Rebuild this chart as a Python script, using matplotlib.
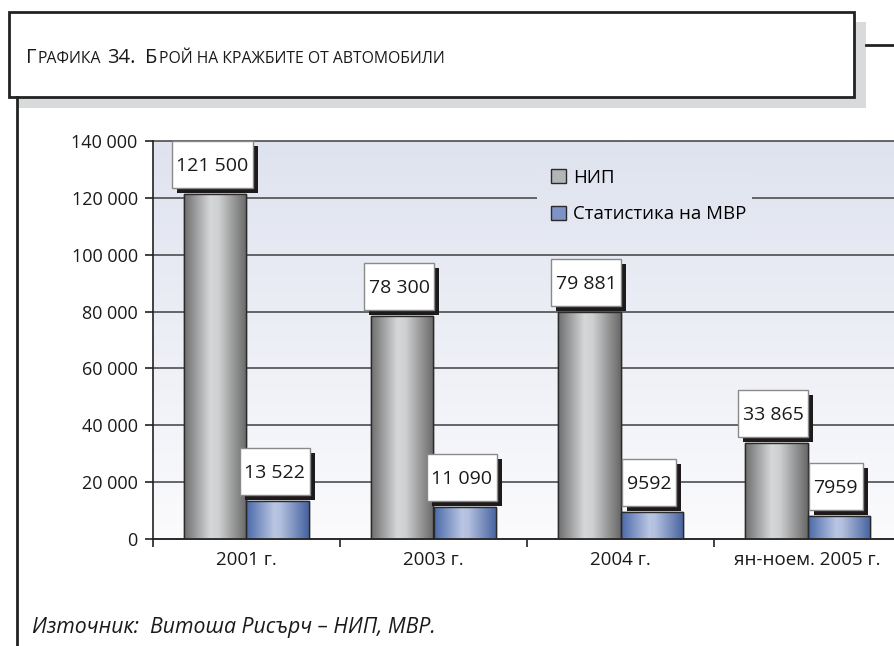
import numpy as np
import matplotlib
matplotlib.use("Agg")
import matplotlib.pyplot as plt
import matplotlib.transforms as mtransforms
from matplotlib.patches import Rectangle
from matplotlib.lines import Line2D
from matplotlib.colors import LinearSegmentedColormap
from matplotlib.patches import Patch

plt.rcParams['font.family'] = ['Open Sans', 'DejaVu Sans']

# ---------------- data ----------------
categories = ["2001 г.", "2003 г.", "2004 г.", "ян-ноем. 2005 г."]
nip = [121500, 78300, 79881, 33865]
mvr = [13522, 11090, 9592, 7959]
nip_labels = ["121 500", "78 300", "79 881", "33 865"]
mvr_labels = ["13 522", "11 090", "9592", "7959"]
series_names = ["НИП", "Статистика на МВР"]
y_ticks = [0, 20000, 40000, 60000, 80000, 100000, 120000, 140000]
y_tick_labels = ["0", "20 000", "40 000", "60 000", "80 000", "100 000", "120 000", "140 000"]
title_parts = [("Г", "big"), ("РАФИКА", "small"), (" ", "gap"), ("34.", "big"), ("  ", "gap2"),
               ("Б", "big"), ("РОЙ НА КРАЖБИТЕ ОТ АВТОМОБИЛИ", "small")]
source_text = "Източник:  Витоша Рисърч – НИП, МВР."

W, H = 895, 646
fig = plt.figure(figsize=(W / 100, H / 100), dpi=100)
fig.patch.set_facecolor("white")


def fx(x):
    return x / W


def fy(y):
    return 1 - y / H


# ---------------- decorations (title box) ----------------
fig.add_artist(Rectangle((fx(17), fy(108)), fx(866) - fx(17), fy(22) - fy(108),
                         transform=fig.transFigure, facecolor="#d9dadc", edgecolor="none", zorder=1))
fig.add_artist(Rectangle((fx(9), fy(97)), fx(854) - fx(9), fy(12) - fy(97),
                         transform=fig.transFigure, facecolor="white", edgecolor="#222222",
                         linewidth=2.0, zorder=2))
fig.add_artist(Line2D([fx(866), fx(895)], [fy(45), fy(45)], transform=fig.transFigure,
                      color="#222222", linewidth=2.0, zorder=2))
fig.add_artist(Line2D([fx(17), fx(17)], [fy(97), fy(646)], transform=fig.transFigure,
                      color="#222222", linewidth=2.0, zorder=2))

# ---------------- axes ----------------
ax_left, ax_right = 153, 901
ax_top, ax_bottom = 141, 539
ax = fig.add_axes([fx(ax_left), fy(ax_bottom), fx(ax_right) - fx(ax_left), fy(ax_top) - fy(ax_bottom)])
ax.set_facecolor("none")
n = len(categories)
xpos = np.arange(n)
bw = 0.335
ax.set_xlim(-0.5, n - 0.5)
ax.set_ylim(0, 140000)

# background gradient
bg_cmap = LinearSegmentedColormap.from_list("bg", ["#fbfbfd", "#dfe3ef"])
grad = np.linspace(0, 1, 256).reshape(-1, 1)
full_extent = [-0.5, n - 0.5, 0, 140000]
ax.imshow(grad, extent=full_extent, origin="lower", aspect="auto", cmap=bg_cmap, zorder=0)

gray_cmap = LinearSegmentedColormap.from_list(
    "g", [(0, "#6e6e6e"), (0.42, "#d6d7d9"), (0.55, "#cfd0d2"), (1, "#686868")])
blue_cmap = LinearSegmentedColormap.from_list(
    "b", [(0, "#4a69aa"), (0.45, "#bac6e2"), (0.55, "#b2bfde"), (1, "#45629f")])
hgrad = np.linspace(0, 1, 256).reshape(1, -1)

bars_nip = ax.bar(xpos - bw / 2, nip, width=bw, color="#b0b0b0", edgecolor="#2a2a2a",
                  linewidth=1.0, zorder=3)
bars_mvr = ax.bar(xpos + bw / 2, mvr, width=bw, color="#8093c8", edgecolor="#2a2a2a",
                  linewidth=1.0, zorder=3)
for bars, cm in ((bars_nip, gray_cmap), (bars_mvr, blue_cmap)):
    for b in bars:
        x0, w_, h_ = b.get_x(), b.get_width(), b.get_height()
        im = ax.imshow(hgrad, extent=[x0, x0 + w_, 0, h_], origin="lower", aspect="auto",
                       cmap=cm, zorder=3.5)
        im.set_clip_path(b)
        ax.add_patch(Rectangle((x0, 0), w_, h_, facecolor="none", edgecolor="#2a2a2a",
                               linewidth=1.0, zorder=3.6))
ax.set_xlim(-0.5, n - 0.5)
ax.set_ylim(0, 140000)

# grid & spines
ax.set_yticks(y_ticks)
ax.set_yticklabels(y_tick_labels, fontsize=13, color="#1a1a1a")
ax.yaxis.grid(True, color="#4d4d4d", linewidth=1.2, zorder=1)
ax.set_axisbelow(True)
for gl in ax.yaxis.get_gridlines():
    gl.set_clip_on(False)
ax.tick_params(axis="y", direction="out", length=6, width=1.2, color="#222222", pad=5)
ax.set_xticks(np.arange(-0.5, n, 1.0))
ax.set_xticklabels([])
ax.set_xticks(xpos, minor=True)
ax.set_xticklabels(categories, minor=True, fontsize=13.5, color="#1a1a1a")
ax.tick_params(axis="x", which="major", direction="out", length=6, width=1.2, color="#222222")
ax.tick_params(axis="x", which="minor", length=0, pad=8.5)
for s in ("top", "right"):
    ax.spines[s].set_visible(False)
ax.spines["left"].set_color("#222222")
ax.spines["left"].set_linewidth(1.2)
ax.spines["bottom"].set_color("#222222")
ax.spines["bottom"].set_linewidth(1.2)
ax.spines["left"].set_zorder(5)
ax.spines["bottom"].set_zorder(5)

# legend (no frame; the gridline behind it is hidden by a patch of the background gradient)
handles = [Patch(facecolor="#b4b5b7", edgecolor="#2a2a2a", linewidth=1.0),
           Patch(facecolor="#7f92c6", edgecolor="#2a2a2a", linewidth=1.0)]
leg_y = 1 - (196 - ax_top) / (ax_bottom - ax_top)
leg = ax.legend(handles, series_names, loc="center",
                bbox_to_anchor=((649 - ax_left) / (ax_right - ax_left), leg_y),
                fontsize=13.4, frameon=False, handlelength=0.78, handleheight=0.78,
                handletextpad=0.42, labelspacing=1.0, borderpad=0.9, borderaxespad=0)
leg.set_zorder(6)

fig.canvas.draw()
renderer = fig.canvas.get_renderer()

# cover gridline under legend with background gradient
inv = ax.transData.inverted()
(lx0, ly0) = inv.transform((fx(537) * W, (1 - 235 / H) * H))
(lx1, ly1) = inv.transform((fx(752) * W, (1 - 158 / H) * H))
cover = ax.imshow(grad, extent=full_extent, origin="lower", aspect="auto", cmap=bg_cmap, zorder=1.5)
clip_rect = Rectangle((lx0, ly0), lx1 - lx0, ly1 - ly0, transform=ax.transData)
cover.set_clip_path(clip_rect)
ax.set_xlim(-0.5, n - 0.5)
ax.set_ylim(0, 140000)


# ---------------- value labels ----------------
def label_box(xc, ytop, text):
    base = fig.dpi_scale_trans + mtransforms.ScaledTranslation(xc, ytop, ax.transData)
    px = 1 / fig.dpi
    t = ax.text(-3 * px, (6 + 47 / 2 - 1.5) * px, text, transform=base, ha="center", va="center",
                fontsize=14, color="#1a1a1a", zorder=9, clip_on=False)
    bb = t.get_window_extent(renderer)
    bw_px = bb.width + 9
    bh_px = 47
    x0 = -3 - bw_px / 2
    y0 = 6
    ax.add_patch(Rectangle(((x0 + 5) * px, (y0 - 5) * px), bw_px * px, bh_px * px, transform=base,
                           facecolor="#1e1a1b", edgecolor="none", zorder=7, clip_on=False))
    ax.add_patch(Rectangle((x0 * px, y0 * px), bw_px * px, bh_px * px, transform=base,
                           facecolor="white", edgecolor="#8a8a8a", linewidth=1.0, zorder=8,
                           clip_on=False))


for b, lab in zip(bars_nip, nip_labels):
    label_box(b.get_x() + b.get_width() / 2, b.get_height(), lab)
for b, lab in zip(bars_mvr, mvr_labels):
    label_box(b.get_x() + b.get_width() / 2, b.get_height(), lab)

# ---------------- title (small caps) ----------------
x = 26
ty = fy(63)
for s, kind in title_parts:
    if kind == "gap":
        x += 5
        continue
    if kind == "gap2":
        x += 9
        continue
    size = 14.5 if kind == "big" else 11.3
    t = fig.text(fx(x), ty, s, fontsize=size, va="baseline", ha="left", color="#1a1a1a", zorder=5)
    bb = t.get_window_extent(renderer)
    x = bb.x1 + 1

# ---------------- source ----------------
fig.text(fx(32), fy(627), source_text, fontsize=15.3, style="italic", va="center", ha="left",
         color="#1a1a1a")

fig.savefig("out.png", dpi=100)
